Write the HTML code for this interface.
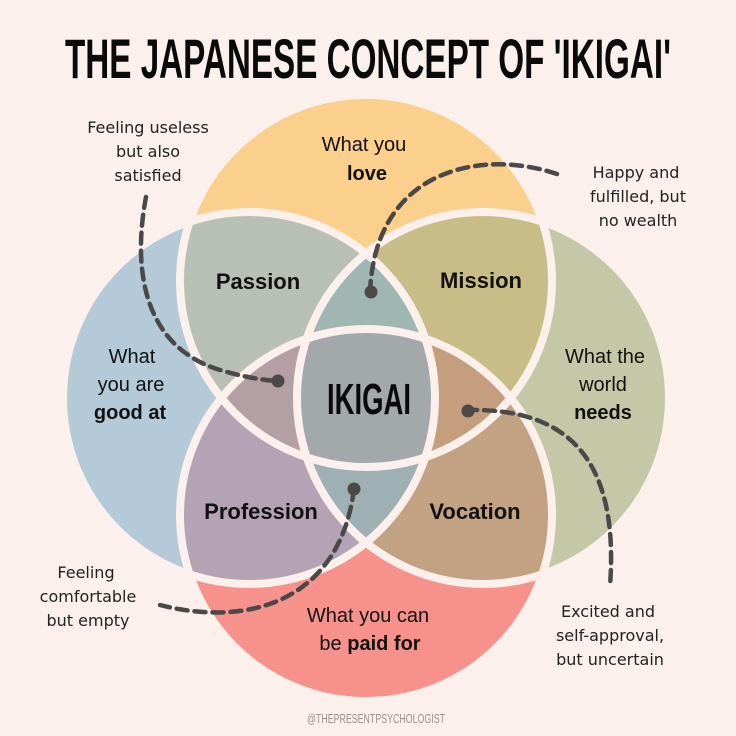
<!DOCTYPE html>
<html><head><meta charset="utf-8"><style>
html,body{margin:0;padding:0;background:#fbf0ec}
svg{display:block}
.t{font-family:"Liberation Sans",sans-serif;font-size:20px;fill:#111;text-anchor:middle}
.b{font-weight:bold}
.r{font-family:"Liberation Sans",sans-serif;font-size:22px;font-weight:bold;fill:#111;text-anchor:middle}
.n{font-family:"DejaVu Sans","Liberation Sans",sans-serif;font-size:16px;fill:#222;text-anchor:middle}
</style></head><body>
<svg width="736" height="736" viewBox="0 0 736 736" xmlns="http://www.w3.org/2000/svg">
<defs>
<clipPath id="cT"><circle cx="366" cy="281" r="186"/></clipPath>
<clipPath id="cL"><circle cx="249" cy="398" r="186"/></clipPath>
<clipPath id="cR"><circle cx="483" cy="398" r="186"/></clipPath>
<clipPath id="cB"><circle cx="366" cy="515" r="186"/></clipPath>
</defs>
<rect width="736" height="736" fill="#fbf0ec"/>
<text x="368" y="78" textLength="606" lengthAdjust="spacingAndGlyphs" font-family="Liberation Sans Narrow, Liberation Sans, sans-serif" font-weight="bold" font-size="56" fill="#0a0a0a" text-anchor="middle">THE JAPANESE CONCEPT OF 'IKIGAI'</text>

<circle cx="366" cy="281" r="186" fill="#fbcf8c"/>
<circle cx="249" cy="398" r="186" fill="#b5cad9"/>
<circle cx="483" cy="398" r="186" fill="#c5c8a6"/>
<circle cx="366" cy="515" r="186" fill="#f7918c"/>
<g clip-path="url(#cT)"><circle cx="249" cy="398" r="186" fill="#b8bfb4"/></g>
<g clip-path="url(#cT)"><circle cx="483" cy="398" r="186" fill="#c8bd86"/></g>
<g clip-path="url(#cB)"><circle cx="249" cy="398" r="186" fill="#b3a3b5"/></g>
<g clip-path="url(#cB)"><circle cx="483" cy="398" r="186" fill="#c2a283"/></g>
<g clip-path="url(#cL)"><g clip-path="url(#cR)"><circle cx="366" cy="281" r="186" fill="#9fb6b3"/></g></g>
<g clip-path="url(#cL)"><g clip-path="url(#cR)"><circle cx="366" cy="515" r="186" fill="#9fb0b5"/></g></g>
<g clip-path="url(#cT)"><g clip-path="url(#cB)"><circle cx="249" cy="398" r="186" fill="#b4a0a4"/></g></g>
<g clip-path="url(#cT)"><g clip-path="url(#cB)"><circle cx="483" cy="398" r="186" fill="#c49e7d"/></g></g>
<g clip-path="url(#cT)"><g clip-path="url(#cB)"><g clip-path="url(#cL)"><circle cx="483" cy="398" r="186" fill="#a3a9aa"/></g></g></g>
<g fill="none" stroke="#fbf0ec" stroke-width="8">
<circle cx="366" cy="281" r="186"/>
<circle cx="249" cy="398" r="186"/>
<circle cx="483" cy="398" r="186"/>
<circle cx="366" cy="515" r="186"/>
</g>

<g fill="none" stroke="#4a4848" stroke-width="4.5" stroke-dasharray="11 7" stroke-linecap="round">
<path d="M146,197 C134,260 138,345 220,370 C240,376 260,380 278,381"/>
<path d="M557,174 C480,148 375,170 370,292"/>
<path d="M466,410 C560,408 620,450 610,586"/>
<path d="M354,489 C340,600 250,628 160,605"/>
</g>
<g fill="#4a4848">
<circle cx="278" cy="381" r="6.5"/>
<circle cx="371" cy="292" r="6.5"/>
<circle cx="468" cy="411" r="6.5"/>
<circle cx="354" cy="489" r="6.5"/>
</g>

<text x="364" y="151" class="t">What you</text>
<text x="367" y="180" class="t b">love</text>
<text x="258" y="289" class="r">Passion</text>
<text x="481" y="288" class="r">Mission</text>
<text x="261" y="519" class="r">Profession</text>
<text x="475" y="519" class="r">Vocation</text>
<text x="369" y="414" font-family="Liberation Sans Narrow, Liberation Sans, sans-serif" font-weight="bold" font-size="44" textLength="84" lengthAdjust="spacingAndGlyphs" fill="#0a0a0a" text-anchor="middle">IKIGAI</text>
<text x="132" y="363" class="t">What</text>
<text x="131" y="391" class="t">you are</text>
<text x="130" y="419" class="t b">good at</text>
<text x="605" y="363" class="t">What the</text>
<text x="603" y="391" class="t">world</text>
<text x="603" y="419" class="t b">needs</text>
<text x="368" y="622" class="t">What you can</text>
<text x="370" y="650" class="t">be <tspan class="b">paid for</tspan></text>

<text x="148" y="133" class="n">Feeling useless</text>
<text x="148" y="157" class="n">but also</text>
<text x="148" y="181" class="n">satisfied</text>
<text x="636" y="178" class="n">Happy and</text>
<text x="638" y="202" class="n">fulfilled, but</text>
<text x="638" y="226" class="n">no wealth</text>
<text x="86" y="578" class="n">Feeling</text>
<text x="88" y="602" class="n">comfortable</text>
<text x="88" y="626" class="n">but empty</text>
<text x="608" y="617" class="n">Excited and</text>
<text x="610" y="641" class="n">self-approval,</text>
<text x="610" y="665" class="n">but uncertain</text>

<text x="376" y="723" font-family="Liberation Sans Narrow, Liberation Sans, sans-serif" font-size="13" textLength="138" lengthAdjust="spacingAndGlyphs" fill="#9a9290" text-anchor="middle">@THEPRESENTPSYCHOLOGIST</text>
</svg>
</body></html>
